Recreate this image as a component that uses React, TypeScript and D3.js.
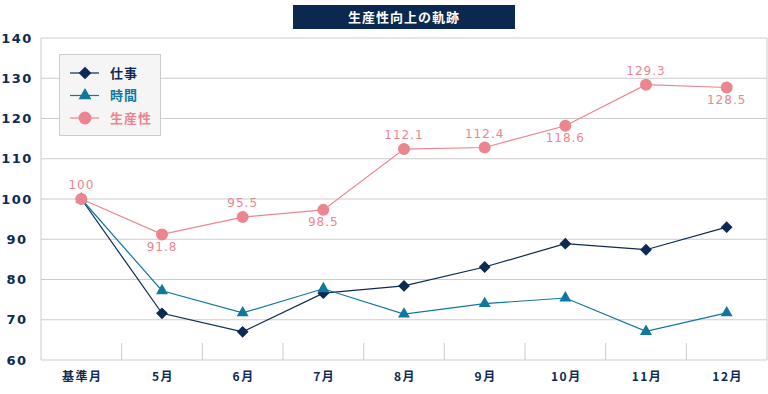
import * as d3 from "d3";
import React, { useEffect, useRef } from "react";

const months = ["基準月", "5月", "6月", "7月", "8月", "9月", "10月", "11月", "12月"];
const shigoto = [100, 71.6, 67.0, 76.6, 78.4, 83.1, 88.9, 87.4, 93.0];
const jikan = [100, 77.2, 71.7, 77.7, 71.4, 74.0, 75.4, 67.1, 71.7];
const seisansei = [100, 91.2, 95.5, 97.3, 112.4, 112.8, 118.2, 128.4, 127.7];
const seisanseiLabels = ["100", "91.8", "95.5", "98.5", "112.1", "112.4", "118.6", "129.3", "128.5"];
const labelAbove = [true, false, true, false, true, true, false, true, false];
const yTicks = [60, 70, 80, 90, 100, 110, 120, 130, 140];

const NAVY = "#0c2a54";
const BLUE = "#10789f";
const PINK = "#ec8590";
const FONT = "'Noto Sans CJK JP', 'DejaVu Sans', sans-serif";
const NUM_FONT = "'DejaVu Sans', sans-serif";

const App = () => {
  const svgRef = useRef<SVGSVGElement>(null);

  useEffect(() => {
    const w = 768;
    const h = 394;
    const left = 41;
    const right = 767;
    const top = 38;
    const bottom = 360;

    const svg = d3.select(svgRef.current).attr("width", w).attr("height", h);
    svg.selectAll("*").remove();

    const x = d3.scaleBand().domain(months).range([left, right]);
    const y = d3.scaleLinear().domain([60, 140]).range([bottom, top]);
    const cx = (m: string) => (x(m) as number) + x.bandwidth() / 2;

    // grid
    svg.append("g")
      .selectAll("line")
      .data(yTicks.slice(1))
      .enter()
      .append("line")
      .attr("x1", left)
      .attr("x2", right)
      .attr("y1", d => y(d))
      .attr("y2", d => y(d))
      .attr("stroke", "#cccccc")
      .attr("stroke-width", 1);

    svg.append("line")
      .attr("x1", left).attr("x2", left)
      .attr("y1", top).attr("y2", bottom)
      .attr("stroke", "#cccccc");
    svg.append("line")
      .attr("x1", right).attr("x2", right)
      .attr("y1", top).attr("y2", bottom)
      .attr("stroke", "#cccccc");
    svg.append("line")
      .attr("x1", left).attr("x2", right)
      .attr("y1", bottom).attr("y2", bottom)
      .attr("stroke", "#cccccc");

    // short ticks between categories
    svg.append("g")
      .selectAll("line")
      .data(months.slice(1))
      .enter()
      .append("line")
      .attr("x1", d => x(d) as number)
      .attr("x2", d => x(d) as number)
      .attr("y1", bottom - 17)
      .attr("y2", bottom)
      .attr("stroke", "#cccccc");

    // y labels
    svg.append("g")
      .selectAll("text")
      .data(yTicks)
      .enter()
      .append("text")
      .attr("x", 17)
      .attr("y", d => y(d))
      .attr("dy", "0.36em")
      .attr("text-anchor", "middle")
      .attr("font-family", NUM_FONT)
      .attr("font-weight", "bold")
      .attr("font-size", 13)
      .attr("letter-spacing", 1.5)
      .attr("fill", NAVY)
      .text(d => d);

    // x labels
    svg.append("g")
      .selectAll("text")
      .data(months)
      .enter()
      .append("text")
      .attr("x", d => cx(d) + 1)
      .attr("y", 377)
      .attr("dy", "0.36em")
      .attr("text-anchor", "middle")
      .attr("font-family", FONT)
      .attr("font-weight", "bold")
      .attr("font-size", 12)
      .attr("letter-spacing", 1.5)
      .attr("fill", NAVY)
      .text(d => d);

    const series = [
      { name: "仕事", values: shigoto, color: NAVY, symbol: d3.symbolSquare, size: 70, rotate: 45 },
      { name: "時間", values: jikan, color: BLUE, symbol: d3.symbolTriangle, size: 62, rotate: 0 },
      { name: "生産性", values: seisansei, color: PINK, symbol: d3.symbolCircle, size: 113, rotate: 0 },
    ];

    const line = d3.line<number>()
      .x((_, i) => cx(months[i]))
      .y(d => y(d));

    series.forEach(s => {
      svg.append("path")
        .datum(s.values)
        .attr("d", line)
        .attr("fill", "none")
        .attr("stroke", s.color)
        .attr("stroke-width", 1.2);
      svg.append("g")
        .selectAll("path")
        .data(s.values)
        .enter()
        .append("path")
        .attr("d", d3.symbol().type(s.symbol).size(s.size)())
        .attr("transform", (d, i) => `translate(${cx(months[i])},${y(d)}) rotate(${s.rotate})`)
        .attr("fill", s.color);
    });

    // productivity labels
    svg.append("g")
      .selectAll("text")
      .data(seisanseiLabels)
      .enter()
      .append("text")
      .attr("x", (_, i) => cx(months[i]))
      .attr("y", (_, i) => y(seisansei[i]) + (labelAbove[i] ? -14 : 12))
      .attr("dy", "0.36em")
      .attr("text-anchor", "middle")
      .attr("font-family", NUM_FONT)
      .attr("font-size", 12)
      .attr("letter-spacing", 1)
      .attr("fill", PINK)
      .text(d => d);

    // legend
    const lg = svg.append("g");
    lg.append("rect")
      .attr("x", 59.5).attr("y", 54.5)
      .attr("width", 101).attr("height", 81)
      .attr("fill", "#f5f5f5")
      .attr("stroke", "#cccccc");
    series.forEach((s, i) => {
      const ly = 73 + i * 22.5;
      lg.append("line")
        .attr("x1", 70).attr("x2", 99)
        .attr("y1", ly).attr("y2", ly)
        .attr("stroke", s.color).attr("stroke-width", 1.2);
      lg.append("path")
        .attr("d", d3.symbol().type(s.symbol).size(s.size * 1.15)())
        .attr("transform", `translate(85,${ly}) rotate(${s.rotate})`)
        .attr("fill", s.color);
      lg.append("text")
        .attr("x", 110).attr("y", ly)
        .attr("dy", "0.36em")
        .attr("font-family", FONT)
        .attr("font-weight", "bold")
        .attr("font-size", 13)
        .attr("letter-spacing", 1)
        .attr("fill", s.color)
        .text(s.name);
    });

    // title
    svg.append("rect")
      .attr("x", 293).attr("y", 5)
      .attr("width", 222).attr("height", 24)
      .attr("fill", "#0b2850");
    svg.append("text")
      .attr("x", 404).attr("y", 17)
      .attr("dy", "0.36em")
      .attr("text-anchor", "middle")
      .attr("font-family", FONT)
      .attr("font-weight", "bold")
      .attr("font-size", 13)
      .attr("letter-spacing", 1)
      .attr("fill", "#ffffff")
      .text("生産性向上の軌跡");
  }, []);

  return (
    <svg ref={svgRef} style={{ position: "absolute", left: 0, top: 0, background: "#fff" }} />
  );
};

export default App;
